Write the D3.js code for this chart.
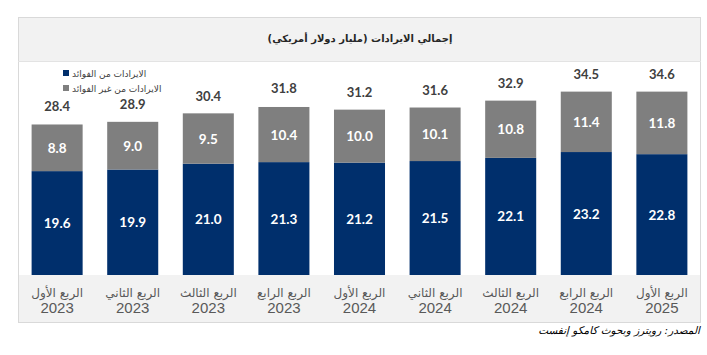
<!DOCTYPE html>
<html><head><meta charset="utf-8">
<script src="https://cdn.jsdelivr.net/npm/d3@7"></script>
<style>body{margin:0;background:#fff}svg{display:block}</style>
</head><body><svg id="c" width="707" height="355"></svg>
<script>
const quarters = ["الربع الأول","الربع الثاني","الربع الثالث","الربع الرابع","الربع الأول","الربع الثاني","الربع الثالث","الربع الرابع","الربع الأول"];
const years = ["2023","2023","2023","2023","2024","2024","2024","2024","2025"];
const interest = [19.6,19.9,21.0,21.3,21.2,21.5,22.1,23.2,22.8];
const nonInterest = [8.8,9.0,9.5,10.4,10.0,10.1,10.8,11.4,11.8];
const totals = [28.4,28.9,30.4,31.8,31.2,31.6,32.9,34.5,34.6];
const seriesNames = ["الايرادات من الفوائد","الايرادات من غير الفوائد"];
const title = "إجمالي الايرادات (مليار دولار أمريكي)";
const source = "المصدر: رويترز وبحوث كامكو إنفست";

const svg = d3.select("#c");
const L=18,R=701,T=17,B=323,titleB=61,axisT=275;
const colors=["#002f6c","#7f7f7f"];

// frame
svg.append("rect").attr("x",L+0.5).attr("y",T+0.5).attr("width",R-L-1).attr("height",B-T-1).attr("fill","#fff").attr("stroke","#d9d9d9");
svg.append("rect").attr("x",L+1).attr("y",T+1).attr("width",R-L-2).attr("height",titleB-T-1).attr("fill","#f2f2f2");
svg.append("rect").attr("x",L+1).attr("y",axisT).attr("width",R-L-2).attr("height",B-axisT-1).attr("fill","#f2f2f2");
svg.append("line").attr("x1",L).attr("x2",R).attr("y1",titleB+0.5).attr("y2",titleB+0.5).attr("stroke","#e3e3e3");

svg.append("text").attr("x",360).attr("y",42).attr("text-anchor","middle")
  .attr("font-family","DejaVu Sans, sans-serif").attr("font-size",10).attr("font-weight","bold").attr("fill","#262626").text(title);

const idx = d3.range(quarters.length);
const x = d3.scaleBand().domain(idx).range([L,R]).paddingInner(0.325).paddingOuter(0.18);
const y = d3.scaleLinear().domain([0,40]).range([axisT,63]);

const stack = d3.stack().keys([0,1]).value((i,k)=> k===0?interest[i]:nonInterest[i]);
const layers = stack(idx);

const g = svg.append("g");
layers.forEach((layer,k)=>{
  g.selectAll(null).data(layer).enter().append("rect")
    .attr("x",(d,i)=>x(i)).attr("width",x.bandwidth())
    .attr("y",d=>y(d[1])).attr("height",d=>y(d[0])-y(d[1]))
    .attr("fill",colors[k]);
  g.selectAll(null).data(layer).enter().append("text")
    .attr("x",(d,i)=>x(i)+x.bandwidth()/2)
    .attr("y",d=>(y(d[0])+y(d[1]))/2+5)
    .attr("text-anchor","middle").attr("fill","#fff")
    .attr("font-family","Lato, 'Open Sans', sans-serif").attr("font-weight","bold").attr("font-size",13.5)
    .text(d=>(d[1]-d[0]).toFixed(1));
});
g.selectAll(null).data(idx).enter().append("text")
  .attr("x",i=>x(i)+x.bandwidth()/2).attr("y",i=>y(totals[i])-13)
  .attr("text-anchor","middle").attr("fill","#404040")
  .attr("font-family","Lato, 'Open Sans', sans-serif").attr("font-weight","bold").attr("font-size",13)
  .text(i=>totals[i].toFixed(1));

// x axis labels
const xa = svg.append("g");
xa.selectAll(null).data(idx).enter().append("text")
  .attr("x",i=>x(i)+x.bandwidth()/2).attr("y",297).attr("text-anchor","middle")
  .attr("font-family","'DejaVu Sans', sans-serif").attr("font-size",12).attr("fill","#595959")
  .text(i=>quarters[i]);
xa.selectAll(null).data(idx).enter().append("text")
  .attr("x",i=>x(i)+x.bandwidth()/2).attr("y",313).attr("text-anchor","middle")
  .attr("font-family","'Liberation Sans', Arial, sans-serif").attr("font-size",15).attr("fill","#595959")
  .text(i=>years[i]);

// legend
const lg = svg.append("g");
seriesNames.forEach((n,k)=>{
  const yy = 73 + k*15;
  lg.append("rect").attr("x",63).attr("y",yy-3).attr("width",6).attr("height",6).attr("fill",colors[k]);
  lg.append("text").attr("x",72).attr("y",yy+3.5).attr("text-anchor","start")
    .attr("font-family","'DejaVu Sans', sans-serif").attr("font-size",9).attr("fill","#404040")
    .text(n);
});

svg.append("text").attr("x",700).attr("y",334).attr("text-anchor","start").attr("direction","rtl")
  .attr("font-family","'DejaVu Sans', sans-serif").attr("font-size",10.5).attr("font-style","italic").attr("fill","#000")
  .text(source);
</script></body></html>
